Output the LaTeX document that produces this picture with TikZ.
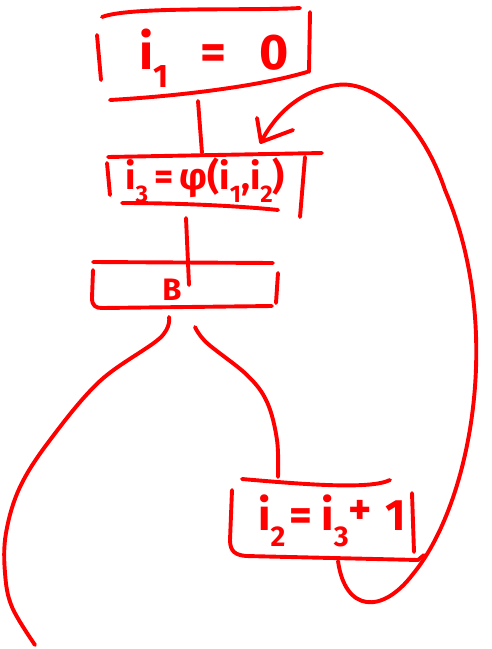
\documentclass[tikz,border=0pt]{standalone}
\usepackage{fontspec}
\setmainfont{Fira Sans}
\newcommand{\lowsub}[1]{\raisebox{-0.35em}{\scalebox{0.65}{#1}}}
\tikzset{
  pen/.style={draw=red, line width=3.9pt, line cap=round, line join=round},
  hand/.style={text=red, inner sep=0pt, font=\bfseries},
}
\begin{document}
\begin{tikzpicture}[x=1pt,y=-1pt]
\useasboundingbox (0,0) rectangle (491,649);
% ---- box 1
\node[hand, font=\fontsize{50}{54}\selectfont\bfseries] (t1) at (214,58) {i\lowsub{1}\hspace{0.65em}=\hspace{0.65em}0};
\draw[pen] (102,17) .. controls (130,6) and (250,11) .. (300,8);
\draw[pen] (97,35) -- (101,80);
\draw[pen] (310,12) -- (309,72);
\draw[pen] (110,100) .. controls (180,96) and (260,86) .. (307,72);
% ---- box 2
\node[hand, font=\fontsize{37}{40}\selectfont\bfseries] (t2) at (205,180) {i\lowsub{3}\,=\,φ(i\lowsub{1},i\lowsub{2})};
\draw[pen] (108,157) -- (322,153);
\draw[pen] (107,163) -- (110,195);
\draw[pen] (305,157) -- (300,217);
\draw[pen] (122,203) .. controls (180,203) and (240,206) .. (278,210);
% ---- box 3
\node[hand, font=\fontsize{31}{34}\selectfont\bfseries] (t3) at (172,290) {B};
\draw[pen] (93,262) -- (273,263);
\draw[pen] (93,270) -- (92,298) .. controls (92,306) and (96,308) .. (102,308) -- (272,306);
\draw[pen] (278,273) -- (276,303);
% ---- box 4
\node[hand, font=\fontsize{44}{48}\selectfont\bfseries] (t4) at (332,521) {i\lowsub{2}\hspace{0.1em}=\hspace{0.2em}i\lowsub{3}\raisebox{0.15em}{+}\hspace{0.3em}1};
\draw[pen] (242,479) .. controls (300,484) and (370,490) .. (390,480);
\draw[pen] (232,490) -- (230,540) .. controls (230,552) and (236,555) .. (246,556) -- (418,560) -- (424,555);
\draw[pen] (412,493) -- (414,552);
% ---- connectors
\coordinate (b1) at (198,101);
\coordinate (b2top) at (202,153);
\coordinate (b2bot) at (186,218);
\coordinate (b3in) at (189,285);
\coordinate (sL) at (169,317);
\coordinate (eL) at (35,645);
\coordinate (sR) at (195,327);
\coordinate (b4top) at (278,477);
\coordinate (loopS) at (338,561);
\coordinate (tip) at (261,142);
\coordinate (wingA) at (257,118);
\coordinate (wingB) at (293,130);
\draw[pen] (b1) -- (b2top);
\draw[pen] (b2bot) -- (b3in);
\draw[pen] plot[smooth, tension=0.6] coordinates {(sL) (160,338) (100,381) (50,440) (20,487) (6,533) (5,573) (12,607) (eL)};
\draw[pen] plot[smooth, tension=0.6] coordinates {(sR) (207,343) (247,375) (267,402) (277,440) (b4top)};
\draw[pen] (loopS) .. controls (345,612) and (382,615) .. (413,574)
  .. controls (470,505) and (505,330) .. (445,190)
  .. controls (420,115) and (370,80) .. (337,85)
  .. controls (300,90) and (275,115) .. (tip);
\draw[pen] (wingA) -- (tip) -- (wingB);
\end{tikzpicture}
\end{document}
